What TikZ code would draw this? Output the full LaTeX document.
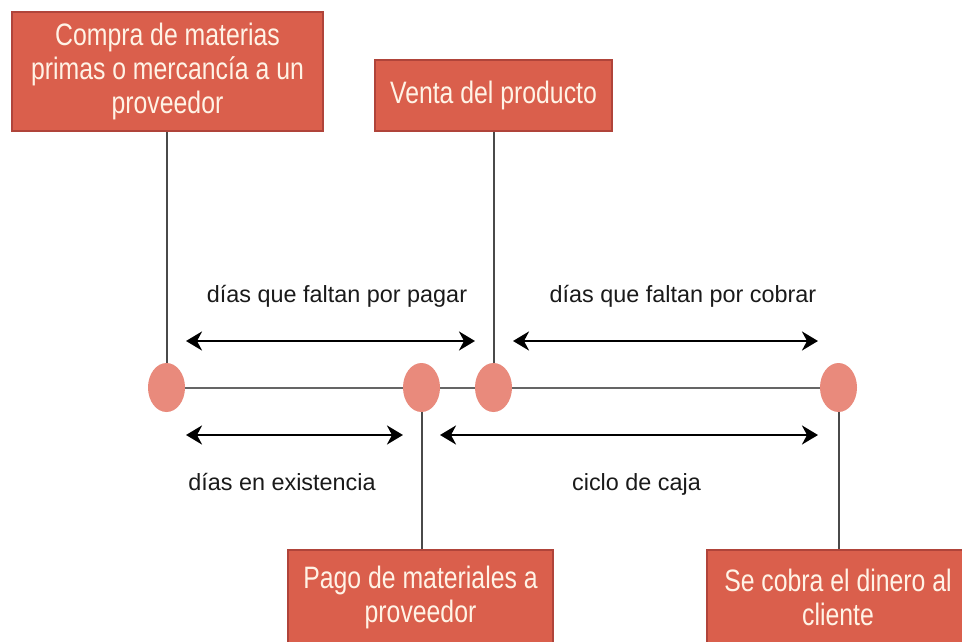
\documentclass[tikz,border=0pt]{standalone}
\usepackage{fontspec}
\setmainfont{Liberation Sans}
\newfontfamily\boxfont[FakeStretch=0.8]{Liberation Sans}
\usetikzlibrary{arrows.meta,shapes.geometric}
\definecolor{boxfill}{HTML}{DA5F4C}
\definecolor{boxline}{HTML}{B0443A}
\definecolor{boxtext}{HTML}{FFF3E6}
\definecolor{dotfill}{HTML}{E98A7C}
\definecolor{linegray}{HTML}{4A4A4A}
\definecolor{labeltext}{HTML}{1A1A1A}
\tikzset{
  evbox/.style={draw=boxline, line width=1.5pt, fill=boxfill, text=boxtext,
    inner sep=0pt, align=center, font=\boxfont\fontsize{31}{34}\selectfont},
  evdot/.style={ellipse, fill=dotfill, draw=none, inner sep=0pt,
    minimum width=37pt, minimum height=49pt},
  vline/.style={draw=linegray, line width=2pt},
  hline/.style={draw=linegray!85, line width=2pt},
  spanarrow/.style={draw=black, line width=2.8pt,
    {Stealth[length=16pt,width=19pt,inset=5pt]}-{Stealth[length=16pt,width=19pt,inset=5pt]}},
  spanlabel/.style={text=labeltext, anchor=base, inner sep=0pt,
    font=\fontsize{23.4}{28}\selectfont}
}
\begin{document}
\begin{tikzpicture}[x=1pt,y=-1pt]
\useasboundingbox (0,0) rectangle (962,641);
\fill[white] (0,0) rectangle (962,641);

% boxes
\node[evbox, minimum width=311pt, minimum height=119pt] (compra) at (167.5,71.5)
  {Compra de materias\\primas o mercancía a un\\proveedor};
\node[evbox, minimum width=237pt, minimum height=71pt] (venta) at (493.5,95.5)
  {Venta del producto};
\node[evbox, minimum width=265pt, minimum height=95pt] (pago) at (420.5,597.5)
  {Pago de materiales a\\proveedor};
\node[evbox, minimum width=262pt, minimum height=95pt] (cobra) at (838,597.5)
  {Se cobra el dinero al\\cliente};

% timeline dots
\node[evdot] (c1) at (166.5,387.5) {};
\node[evdot] (c2) at (421.5,387.5) {};
\node[evdot] (c3) at (493.5,387.5) {};
\node[evdot] (c4) at (838.5,387.5) {};

% connectors
\draw[vline] (c1 |- compra.south) -- (c1.north);
\draw[vline] (c3 |- venta.south) -- (c3.north);
\draw[vline] (c2.south) -- (c2 |- pago.north);
\draw[vline] (c4.south) -- (c4 |- cobra.north);
\draw[hline] (c1.east) -- (c2.west);
\draw[hline] (c2.east) -- (c3.west);
\draw[hline] (c3.east) -- (c4.west);

% span arrows
\coordinate (p1a) at (186,341);
\coordinate (p1b) at (475,341);
\coordinate (p2a) at (513,341);
\coordinate (p2b) at (818,341);
\coordinate (p3a) at (186,435);
\coordinate (p3b) at (403,435);
\coordinate (p4a) at (440,435);
\coordinate (p4b) at (818,435);
\draw[spanarrow] (p1a) -- (p1b);
\draw[spanarrow] (p2a) -- (p2b);
\draw[spanarrow] (p3a) -- (p3b);
\draw[spanarrow] (p4a) -- (p4b);

% labels
\node[spanlabel] (l1) at (337,302) {días que faltan por pagar};
\node[spanlabel] (l2) at (683,302) {días que faltan por cobrar};
\node[spanlabel] (l3) at (282,490) {días en existencia};
\node[spanlabel] (l4) at (636.5,490) {ciclo de caja};
\end{tikzpicture}
\end{document}
